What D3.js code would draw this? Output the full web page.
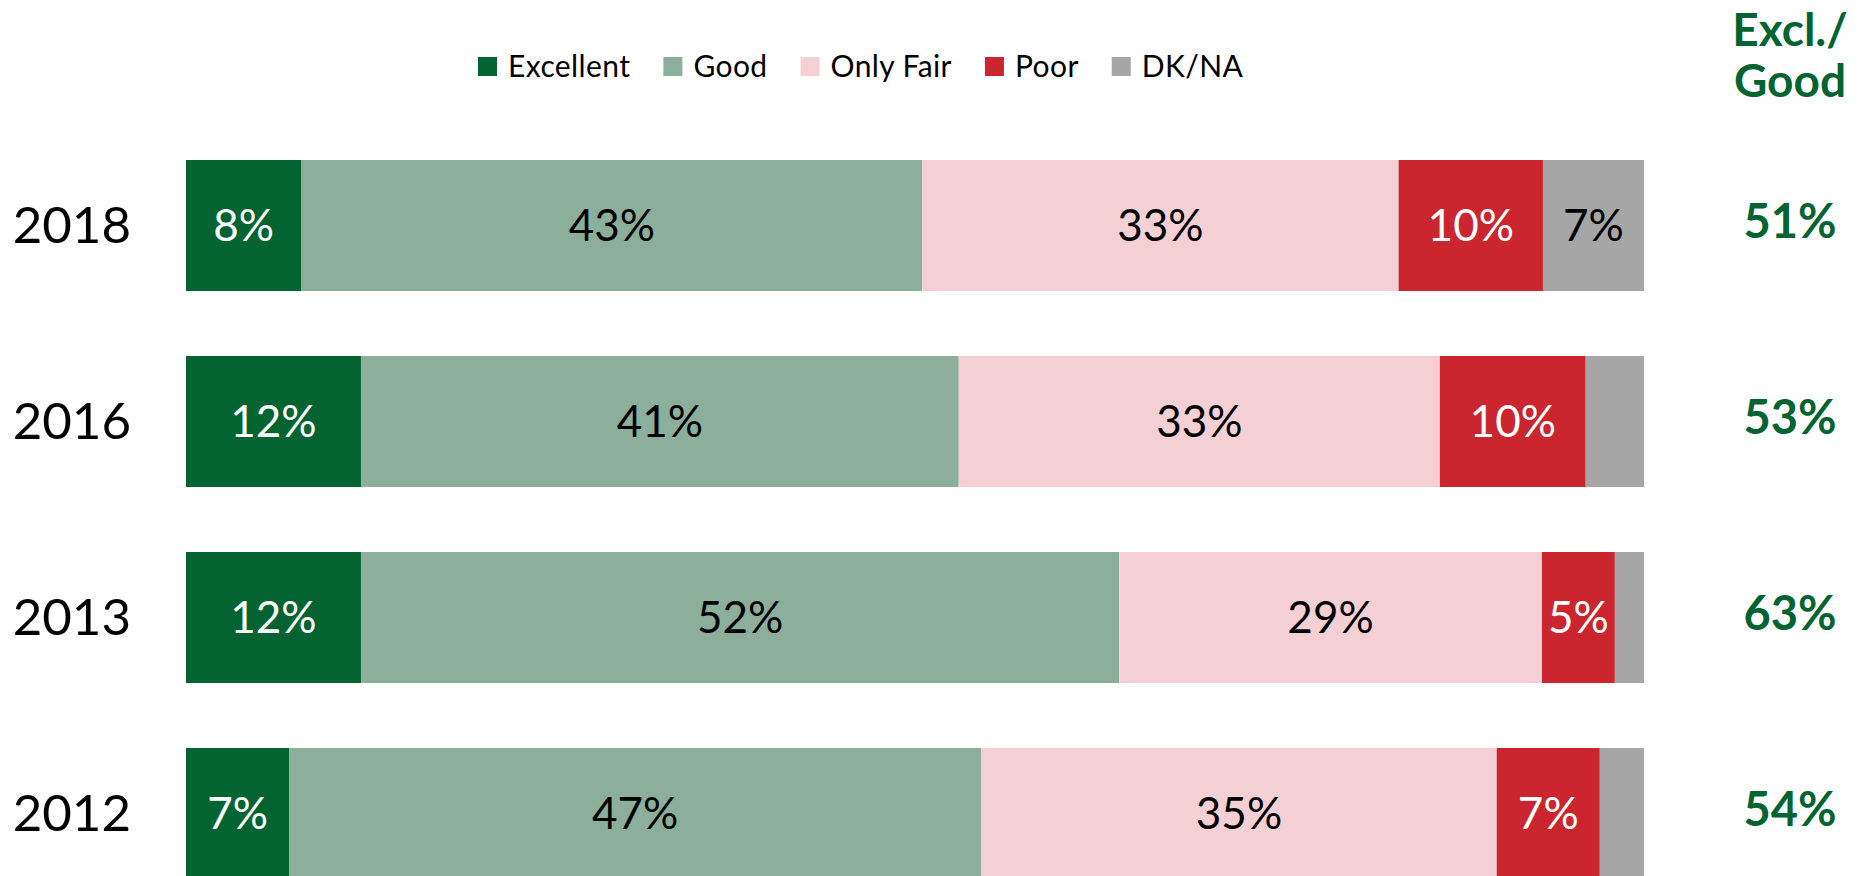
<!DOCTYPE html>
<html>
<head>
<meta charset="utf-8">
<script src="https://cdn.jsdelivr.net/npm/d3@7"></script>
<style>
	body { margin:0; background:#fff; }
	svg text { font-family: Lato, "Open Sans", sans-serif; }
</style>
</head>
<body>
<svg id="chart" width="1868" height="876"></svg>
<script>

// ==================== Data ====================
var years     = ["2018", "2016", "2013", "2012"];
var excellent = [8, 12, 12, 7];
var good      = [43, 41, 52, 47];
var onlyFair  = [33, 33, 29, 35];
var poor      = [10, 10, 5, 7];
var dkna      = [7, 4, 2, 3];
var exclGood  = [51, 53, 63, 54];

var categories = ["Excellent", "Good", "Only Fair", "Poor", "DK/NA"];
var colors     = ["#036432", "#8BAF9B", "#F4D0D4", "#CB252F", "#A6A6A6"];
var textColors = ["#fff", "#000", "#000", "#fff", "#000"];
var netColor   = "#036432";

var svg = d3.select("#chart");

//rows for the stack, one per year
var rows = years.map(function(y, i){
	return {year:y, "Excellent":excellent[i], "Good":good[i], "Only Fair":onlyFair[i], "Poor":poor[i], "DK/NA":dkna[i]};
});

// 100% stacked, each row normalised to its own total
var series = d3.stack()
	.keys(categories)
	.offset(d3.stackOffsetExpand)(rows);

// ==================== Scales ====================
var x = d3.scaleLinear().domain([0, 1]).range([186, 1644]);
var y = d3.scaleBand().domain(years).range([160, 879]).paddingInner(65/196).paddingOuter(0);
var color = d3.scaleOrdinal().domain(categories).range(colors);

// ==================== Bars ====================
var groups = svg.selectAll(".serie")
	.data(series)
	.enter()
	.append("g")
		.attr("class", "serie")
		.attr("fill", function(d){ return color(d.key); });

groups.selectAll("rect")
	.data(function(d){ return d; })
	.enter()
	.append("rect")
		.attr("x", function(d){ return x(d[0]); })
		.attr("y", function(d){ return y(d.data.year); })
		.attr("width", function(d){ return x(d[1]) - x(d[0]); })
		.attr("height", y.bandwidth());

// ==================== Bar labels ====================
//small segments (under 5) get no label
groups.each(function(s, si){
	d3.select(this).selectAll(".bar-text")
		.data(s.filter(function(d){ return d.data[s.key] >= 5; }))
		.enter()
		.append("text")
			.attr("class", "bar-text")
			.attr("x", function(d){ return (x(d[0]) + x(d[1]))/2; })
			.attr("y", function(d){ return y(d.data.year) + y.bandwidth()/2; })
			.attr("dy", "0.35em")
			.attr("text-anchor", "middle")
			.attr("font-size", 44)
			.attr("fill", textColors[si])
			.text(function(d){ return d.data[s.key] + "%"; });
});

// ==================== Year labels ====================
svg.selectAll(".year-text")
	.data(years)
	.enter()
	.append("text")
		.attr("class", "year-text")
		.attr("x", 131)
		.attr("y", function(d){ return y(d) + y.bandwidth()/2; })
		.attr("dy", "0.34em")
		.attr("text-anchor", "end")
		.attr("font-size", 51)
		.attr("fill", "#000")
		.text(function(d){ return d; });

// ==================== Excl./Good column ====================
var netX = 1790;
svg.append("text")
	.attr("x", netX).attr("y", 46)
	.attr("text-anchor", "middle")
	.attr("font-size", 46).attr("font-weight", "bold")
	.attr("fill", netColor)
	.text("Excl./");
svg.append("text")
	.attr("x", netX).attr("y", 97)
	.attr("text-anchor", "middle")
	.attr("font-size", 46).attr("font-weight", "bold")
	.attr("fill", netColor)
	.text("Good");

svg.selectAll(".net-text")
	.data(exclGood)
	.enter()
	.append("text")
		.attr("class", "net-text")
		.attr("x", netX)
		.attr("y", function(d, i){ return y(years[i]) + y.bandwidth()/2 + 12; })
		.attr("text-anchor", "middle")
		.attr("font-size", 47).attr("font-weight", "bold")
		.attr("fill", netColor)
		.text(function(d){ return d + "%"; });

// ==================== Legend ====================
var legend = svg.append("g").attr("class", "legend");
var lx = 478;
categories.forEach(function(c){
	var item = legend.append("g").attr("transform", "translate(" + lx + ",57)");
	item.append("rect")
		.attr("width", 19).attr("height", 19)
		.attr("fill", color(c));
	var t = item.append("text")
		.attr("x", 30).attr("y", 20)
		.attr("font-size", 30)
		.attr("letter-spacing", 0.4)
		.attr("fill", "#000")
		.text(c);
	lx += 30 + t.node().getComputedTextLength() + 33;
});

</script>
</body>
</html>
